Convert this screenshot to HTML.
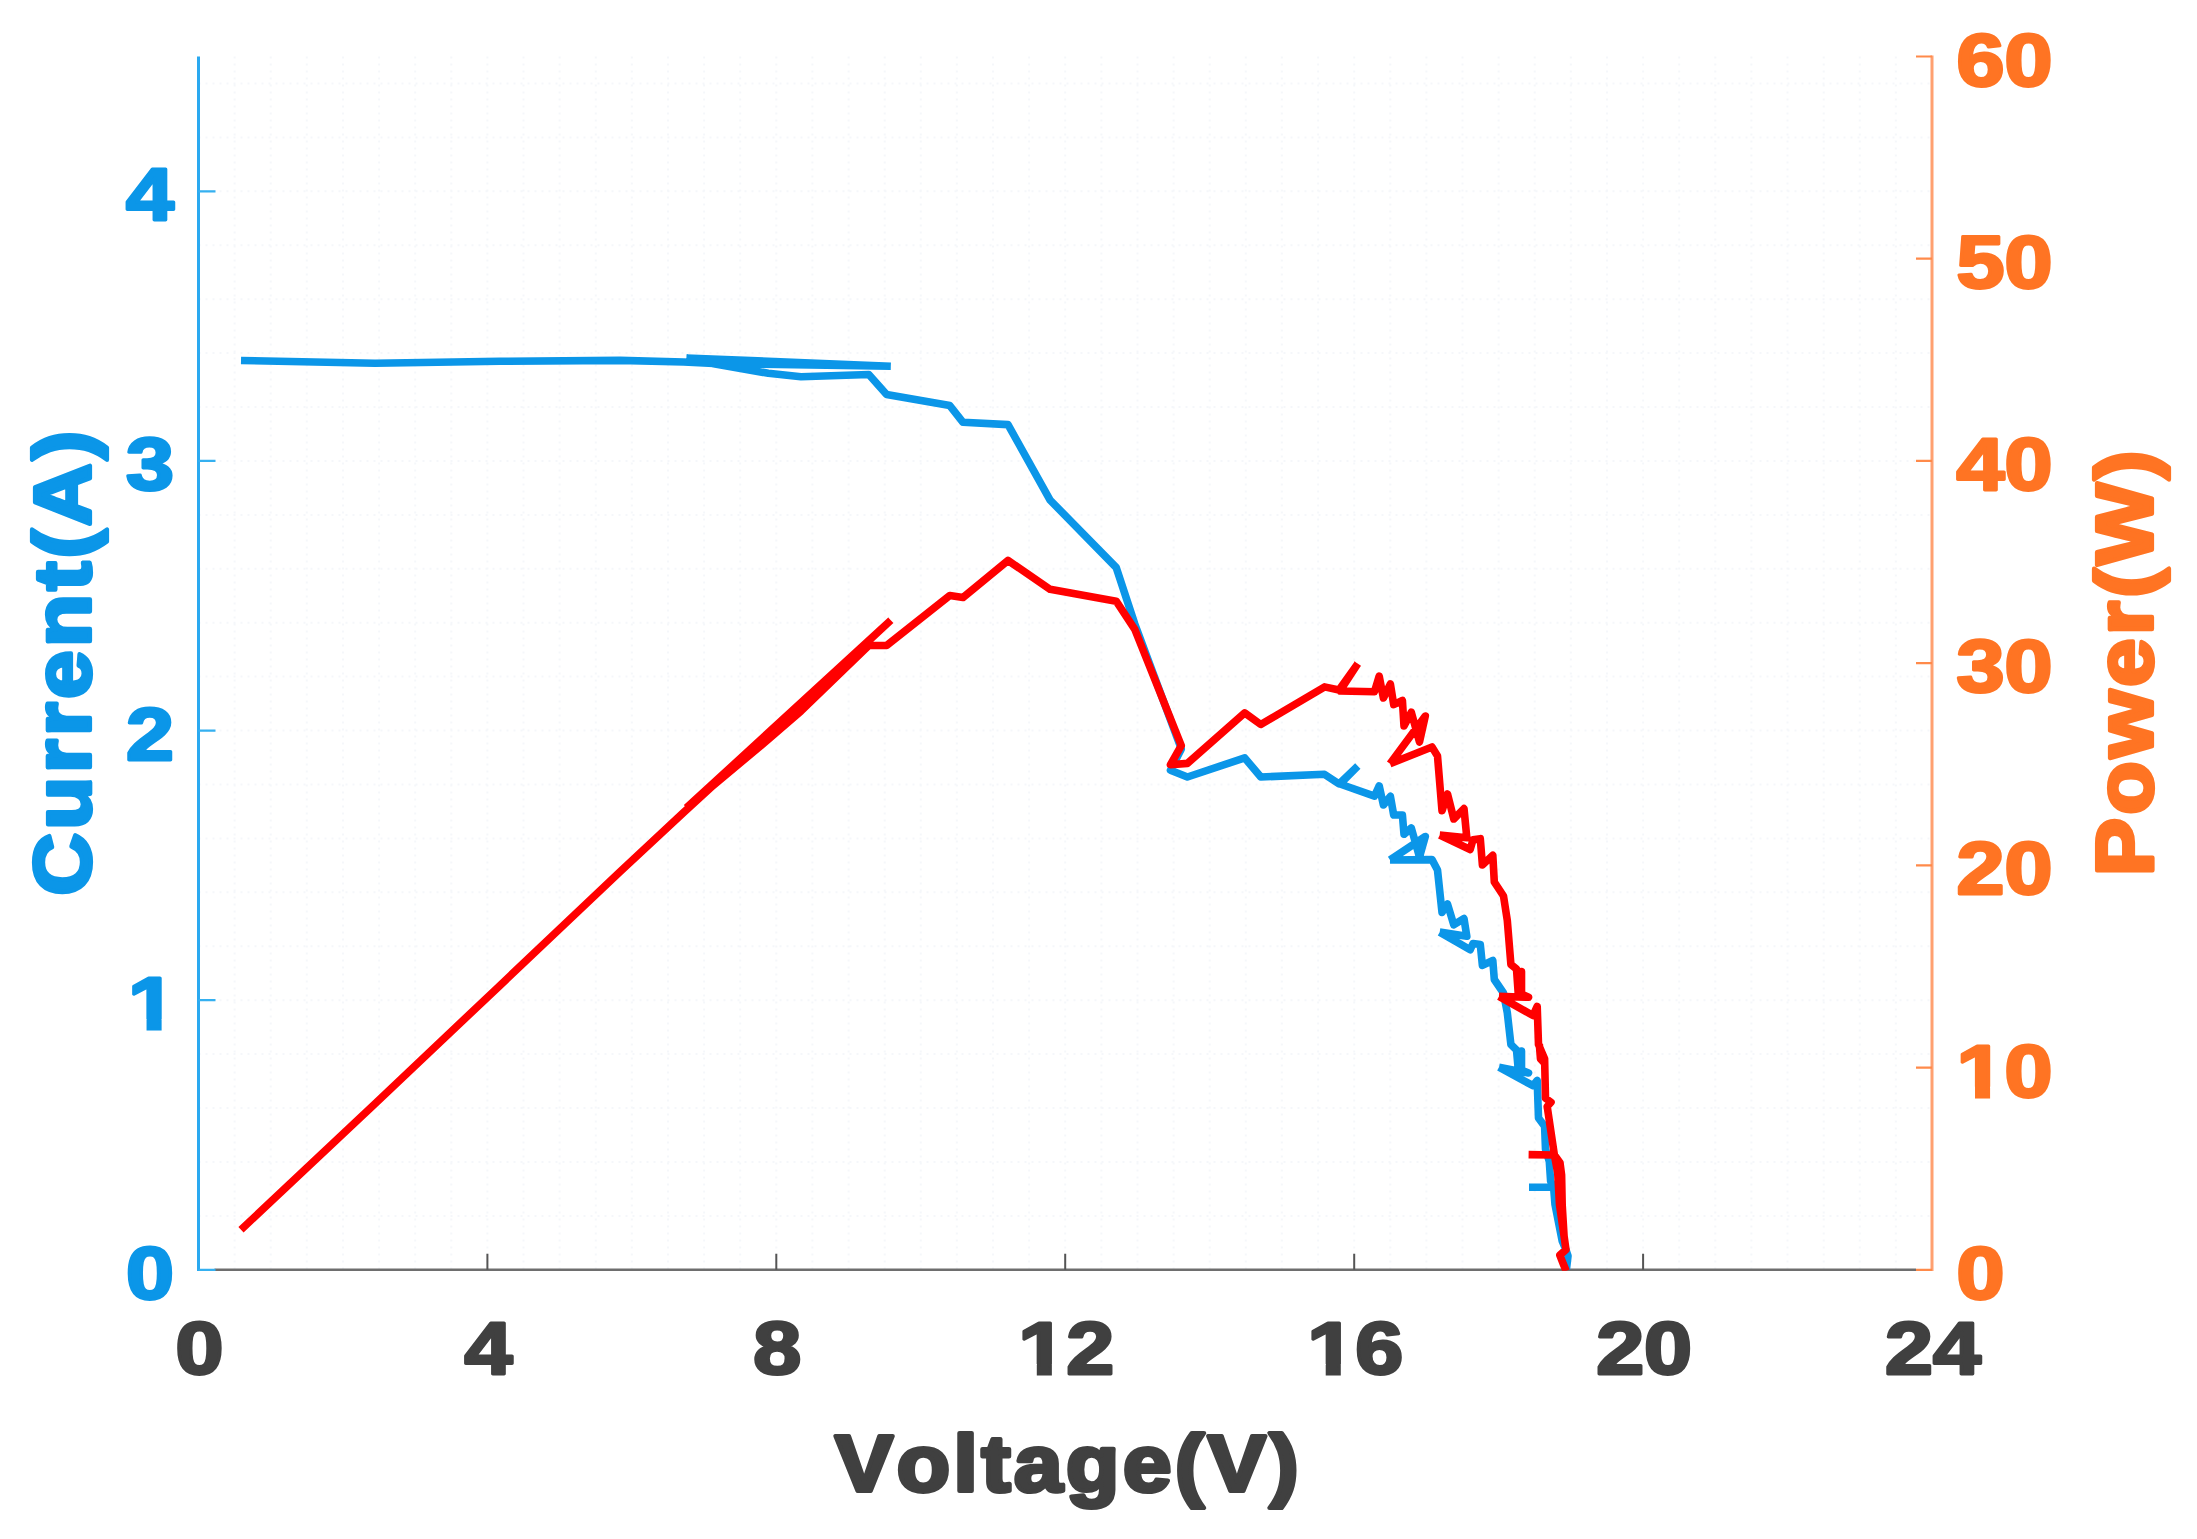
<!DOCTYPE html>
<html lang="en"><head><meta charset="utf-8"><title>I-V and P-V curve</title>
<style>html,body{margin:0;padding:0;background:#fff}body{width:2197px;height:1539px;overflow:hidden}svg{display:block}text{font-kerning:none;font-family:"Liberation Sans",Arial,Helvetica,sans-serif;font-weight:bold;stroke-linejoin:round}</style></head><body>
<svg width="2197" height="1539" viewBox="0 0 2197 1539">
<rect width="2197" height="1539" fill="#fff"/>
<path d="M234.6,56.5 V1269.8 M270.7,56.5 V1269.8 M306.8,56.5 V1269.8 M343.0,56.5 V1269.8 M379.1,56.5 V1269.8 M415.2,56.5 V1269.8 M451.3,56.5 V1269.8 M487.4,56.5 V1269.8 M523.5,56.5 V1269.8 M559.6,56.5 V1269.8 M595.8,56.5 V1269.8 M631.9,56.5 V1269.8 M668.0,56.5 V1269.8 M704.1,56.5 V1269.8 M740.2,56.5 V1269.8 M776.3,56.5 V1269.8 M812.4,56.5 V1269.8 M848.6,56.5 V1269.8 M884.7,56.5 V1269.8 M920.8,56.5 V1269.8 M956.9,56.5 V1269.8 M993.0,56.5 V1269.8 M1029.1,56.5 V1269.8 M1065.2,56.5 V1269.8 M1101.4,56.5 V1269.8 M1137.5,56.5 V1269.8 M1173.6,56.5 V1269.8 M1209.7,56.5 V1269.8 M1245.8,56.5 V1269.8 M1281.9,56.5 V1269.8 M1318.1,56.5 V1269.8 M1354.2,56.5 V1269.8 M1390.3,56.5 V1269.8 M1426.4,56.5 V1269.8 M1462.5,56.5 V1269.8 M1498.6,56.5 V1269.8 M1534.7,56.5 V1269.8 M1570.9,56.5 V1269.8 M1607.0,56.5 V1269.8 M1643.1,56.5 V1269.8 M1679.2,56.5 V1269.8 M1715.3,56.5 V1269.8 M1751.4,56.5 V1269.8 M1787.5,56.5 V1269.8 M1823.7,56.5 V1269.8 M1859.8,56.5 V1269.8 M1895.9,56.5 V1269.8 M198.5,1215.9 H1932.0 M198.5,1162.0 H1932.0 M198.5,1108.0 H1932.0 M198.5,1054.1 H1932.0 M198.5,1000.2 H1932.0 M198.5,946.3 H1932.0 M198.5,892.3 H1932.0 M198.5,838.4 H1932.0 M198.5,784.5 H1932.0 M198.5,730.6 H1932.0 M198.5,676.6 H1932.0 M198.5,622.7 H1932.0 M198.5,568.8 H1932.0 M198.5,514.9 H1932.0 M198.5,460.9 H1932.0 M198.5,407.0 H1932.0 M198.5,353.1 H1932.0 M198.5,299.2 H1932.0 M198.5,245.2 H1932.0 M198.5,191.3 H1932.0 M198.5,137.4 H1932.0 M198.5,83.5 H1932.0" stroke="#dfe6ee" stroke-width="2" stroke-dasharray="2 5" fill="none" opacity="0.3"/>
<path d="M214.5,1269.8 H1916.0" stroke="#6e6e6e" stroke-width="2.6" fill="none"/>
<path d="M487.4,1269.8 v-16 M776.3,1269.8 v-16 M1065.2,1269.8 v-16 M1354.2,1269.8 v-16 M1643.1,1269.8 v-16" stroke="#555" stroke-width="2" fill="none"/>
<path d="M198.5,56.5 V1271.0" stroke="#2aa9f0" stroke-width="3" fill="none"/>
<path d="M198.5,1269.8 h17 M198.5,1000.2 h17 M198.5,730.6 h17 M198.5,460.9 h17 M198.5,191.3 h17" stroke="#35b0f0" stroke-width="2.2" fill="none"/>
<path d="M1932.0,55.5 V1271.0" stroke="#ffa070" stroke-width="3" fill="none"/>
<path d="M1932.0,1269.8 h-16 M1932.0,1067.6 h-16 M1932.0,865.4 h-16 M1932.0,663.1 h-16 M1932.0,460.9 h-16 M1932.0,258.7 h-16 M1932.0,56.5 h-16" stroke="#ff8a4a" stroke-width="2.2" fill="none"/>
<defs><clipPath id="c"><rect x="198.5" y="56.5" width="1733.5" height="1214.3"/></clipPath></defs>
<g clip-path="url(#c)" fill="none" stroke-width="7.6" stroke-linejoin="round" stroke-linecap="butt">
<path d="M241.0,360.5 L375.0,363.3 L500.0,361.3 L620.0,360.4 L683.7,362.0 L713.7,363.5 L890.8,366.3 M890.8,366.3 L686.4,358.0 M686.4,358.0 L713.7,363.7 L768.3,373.3 L801.0,376.8 L868.8,374.5 L886.6,394.5 L949.8,405.6 L963.0,422.3 L1008.0,424.6 L1050.1,500.1 L1116.2,567.5 L1134.8,624.0 L1181.3,749.0 L1170.5,770.2 L1187.4,777.0 L1244.7,757.9 L1260.8,777.0 L1324.5,774.3 L1339.0,783.9 L1357.8,766.1 M1357.8,766.1 L1340.0,784.0 L1374.5,796.1 L1379.2,785.9 L1383.4,805.0 L1390.4,796.3 L1393.7,815.0 L1402.4,815.0 L1404.0,834.3 L1411.3,828.0 L1419.5,857.0 L1425.3,836.5 L1390.0,860.0 M1390.0,860.0 L1432.0,859.6 L1437.5,870.0 L1442.0,912.4 L1447.5,904.0 L1453.8,924.8 L1464.0,918.6 L1466.8,936.3 L1439.7,932.1 M1439.7,932.1 L1470.2,949.8 L1473.0,943.5 L1480.3,944.6 L1482.4,965.4 L1492.8,960.5 L1494.3,979.5 L1503.5,993.0 L1507.3,1012.8 L1510.9,1044.6 L1516.5,1050.0 L1518.2,1069.0 L1521.5,1051.0 L1521.5,1070.0 L1528.5,1073.0 L1499.0,1067.2 M1499.0,1067.2 L1533.0,1085.7 L1537.2,1080.5 L1538.5,1118.0 L1544.6,1126.3 L1545.5,1149.1 L1549.3,1161.5 L1550.6,1181.0 L1553.6,1187.0 L1529.0,1187.2 M1529.0,1187.2 L1553.6,1187.0 L1555.0,1204.6 L1562.2,1241.0 L1566.0,1250.0 L1568.0,1256.0 L1566.4,1269.5" stroke="#0b96e8"/>
<path d="M241.0,1229.7 L375.0,1103.7 L500.0,985.4 L620.0,871.8 L683.7,812.4 L713.7,785.0 L890.8,620.3 M890.8,620.3 L686.4,807.9 M686.4,807.9 L713.7,785.1 L768.3,739.4 L801.0,711.1 L868.8,645.5 L886.6,645.5 L949.8,595.6 L963.0,597.5 L1008.0,560.5 L1050.1,589.3 L1116.2,601.2 L1134.8,629.4 L1181.3,745.6 L1170.5,764.7 L1187.4,763.4 L1244.7,712.9 L1260.8,724.5 L1324.5,686.9 L1339.0,690.0 L1357.8,663.7 M1357.8,663.7 L1340.0,691.0 L1374.5,691.7 L1379.2,676.2 L1383.4,698.0 L1390.4,684.0 L1393.7,704.6 L1402.4,700.5 L1404.0,726.0 L1411.3,712.2 L1419.5,742.0 L1425.3,716.0 L1390.0,763.7 M1390.0,763.7 L1432.0,747.0 L1437.5,756.0 L1442.0,810.7 L1447.5,794.0 L1453.8,819.0 L1464.0,808.6 L1466.8,837.7 L1439.7,835.1 M1439.7,835.1 L1470.2,849.5 L1473.0,839.8 L1480.3,838.7 L1482.4,865.0 L1492.8,855.3 L1494.3,882.0 L1503.5,896.0 L1507.3,920.5 L1510.9,964.5 L1516.5,969.0 L1518.2,993.0 L1521.5,971.5 L1521.5,994.0 L1528.5,997.3 L1499.0,996.4 M1499.0,996.4 L1533.0,1015.5 L1537.2,1006.4 L1538.5,1044.6 L1544.6,1058.7 L1545.5,1098.2 L1551.0,1102.3 L1547.2,1106.5 L1554.4,1155.0 L1528.6,1154.6 M1528.6,1154.6 L1554.4,1155.0 L1557.7,1172.7 L1559.5,1204.6 L1564.1,1236.4 L1566.0,1249.7 L1559.8,1255.2 L1563.1,1263.5 L1566.2,1271.0 M1554.4,1155 L1560,1162.7 L1561.6,1175 L1562.2,1205 L1564.1,1236.4 M1539.3,1044 L1540.5,1059 L1545.2,1064" stroke="#ff0000"/>
</g>
<text transform="translate(199.5,1374.0) scale(1.150,1)" text-anchor="middle" font-size="75" letter-spacing="0" fill="#404040" stroke="#404040" stroke-width="3">0</text>
<text transform="translate(488.4,1374.0) scale(1.150,1)" text-anchor="middle" font-size="75" letter-spacing="0" fill="#404040" stroke="#404040" stroke-width="3">4</text>
<text transform="translate(777.3,1374.0) scale(1.150,1)" text-anchor="middle" font-size="75" letter-spacing="0" fill="#404040" stroke="#404040" stroke-width="3">8</text>
<text transform="translate(1066.2,1374.0) scale(1.150,1)" text-anchor="middle" font-size="75" letter-spacing="0" fill="#404040" stroke="#404040" stroke-width="3">12</text>
<rect x="1020.49" y="1364.05" width="16.30" height="13.15" fill="#fff"/><rect x="1051.87" y="1364.05" width="15.20" height="13.15" fill="#fff"/>
<text transform="translate(1355.2,1374.0) scale(1.150,1)" text-anchor="middle" font-size="75" letter-spacing="0" fill="#404040" stroke="#404040" stroke-width="3">16</text>
<rect x="1309.41" y="1364.05" width="16.30" height="13.15" fill="#fff"/><rect x="1340.79" y="1364.05" width="15.20" height="13.15" fill="#fff"/>
<text transform="translate(1644.1,1374.0) scale(1.150,1)" text-anchor="middle" font-size="75" letter-spacing="0" fill="#404040" stroke="#404040" stroke-width="3">20</text>
<text transform="translate(1933.0,1374.0) scale(1.150,1)" text-anchor="middle" font-size="75" letter-spacing="0" fill="#404040" stroke="#404040" stroke-width="3">24</text>
<text transform="translate(174.0,1298.8) scale(1.150,1)" text-anchor="end" font-size="75" letter-spacing="0" fill="#0b96e8" stroke="#0b96e8" stroke-width="3">0</text>
<text transform="translate(176.0,1029.2) scale(1.150,1)" text-anchor="end" font-size="75" letter-spacing="0" fill="#0b96e8" stroke="#0b96e8" stroke-width="3">1</text>
<rect x="130.24" y="1019.22" width="16.30" height="13.15" fill="#fff"/><rect x="161.62" y="1019.22" width="15.20" height="13.15" fill="#fff"/>
<text transform="translate(174.0,759.6) scale(1.150,1)" text-anchor="end" font-size="75" letter-spacing="0" fill="#0b96e8" stroke="#0b96e8" stroke-width="3">2</text>
<text transform="translate(174.0,489.9) scale(1.150,1)" text-anchor="end" font-size="75" letter-spacing="0" fill="#0b96e8" stroke="#0b96e8" stroke-width="3">3</text>
<text transform="translate(174.0,220.3) scale(1.150,1)" text-anchor="end" font-size="75" letter-spacing="0" fill="#0b96e8" stroke="#0b96e8" stroke-width="3">4</text>
<text transform="translate(1956.5,1298.8) scale(1.150,1)" text-anchor="start" font-size="75" letter-spacing="0" fill="#ff7423" stroke="#ff7423" stroke-width="3">0</text>
<text transform="translate(1956.5,1096.6) scale(1.150,1)" text-anchor="start" font-size="75" letter-spacing="0" fill="#ff7423" stroke="#ff7423" stroke-width="3">10</text>
<rect x="1958.71" y="1086.63" width="16.30" height="13.15" fill="#fff"/><rect x="1990.09" y="1086.63" width="15.20" height="13.15" fill="#fff"/>
<text transform="translate(1956.5,894.4) scale(1.150,1)" text-anchor="start" font-size="75" letter-spacing="0" fill="#ff7423" stroke="#ff7423" stroke-width="3">20</text>
<text transform="translate(1956.5,692.1) scale(1.150,1)" text-anchor="start" font-size="75" letter-spacing="0" fill="#ff7423" stroke="#ff7423" stroke-width="3">30</text>
<text transform="translate(1956.5,489.9) scale(1.150,1)" text-anchor="start" font-size="75" letter-spacing="0" fill="#ff7423" stroke="#ff7423" stroke-width="3">40</text>
<text transform="translate(1956.5,287.7) scale(1.150,1)" text-anchor="start" font-size="75" letter-spacing="0" fill="#ff7423" stroke="#ff7423" stroke-width="3">50</text>
<text transform="translate(1956.5,85.5) scale(1.150,1)" text-anchor="start" font-size="75" letter-spacing="0" fill="#ff7423" stroke="#ff7423" stroke-width="3">60</text>
<text transform="translate(1068.5,1490.5) scale(1.090,1)" text-anchor="middle" font-size="80" letter-spacing="3.3" fill="#404040" stroke="#404040" stroke-width="4.2">Voltage(V)</text>
<text transform="translate(89.5,661.5) rotate(-90) scale(1.081,1)" text-anchor="middle" font-size="80" letter-spacing="3.3" fill="#0b96e8" stroke="#0b96e8" stroke-width="4.2">Current(A)</text>
<text transform="translate(2151.5,661.5) rotate(-90) scale(1.085,1)" text-anchor="middle" font-size="80" letter-spacing="3.3" fill="#ff7423" stroke="#ff7423" stroke-width="4.2">Power(W)</text>
</svg></body></html>
